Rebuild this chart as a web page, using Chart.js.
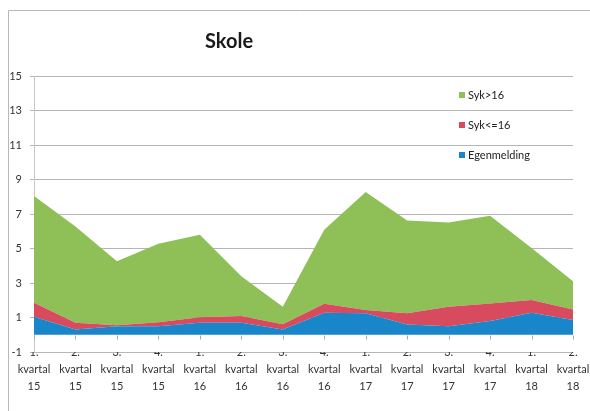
<!DOCTYPE html>
<html>
<head>
<meta charset="utf-8">
<script src="https://cdn.jsdelivr.net/npm/chart.js@4/dist/chart.umd.min.js"></script>
<style>
  html, body { margin: 0; padding: 0; background: #fff; overflow: hidden; }
</style>
</head>
<body>
<canvas id="skole" width="590" height="411"></canvas>
<script>
var kvartal = ['1.', '2.', '3.', '4.', '1.', '2.', '3.', '4.', '1.', '2.', '3.', '4.', '1.', '2.'];
var aar = ['15', '15', '15', '15', '16', '16', '16', '16', '17', '17', '17', '17', '18', '18'];

// values (stacked)
var egenmelding = [1.05, 0.31, 0.5, 0.5, 0.7, 0.7, 0.31, 1.28, 1.24, 0.6, 0.5, 0.79, 1.28, 0.85];
var sykUnder16 = [0.8, 0.39, 0.05, 0.23, 0.32, 0.38, 0.3, 0.52, 0.19, 0.64, 1.12, 1.02, 0.73, 0.62];
var sykOver16 = [6.2, 5.58, 3.71, 4.55, 4.78, 2.31, 1.02, 4.29, 6.84, 5.39, 4.89, 5.09, 3.02, 1.63];

var yTicks = [-1, 1, 3, 5, 7, 9, 11, 13, 15];

var labels = kvartal.map(function (k, i) { return [k, 'kvartal', aar[i]]; });

var axisFont = { family: 'Lato, sans-serif', size: 11, lineHeight: 1.55 };

// frame, title, legend and the little category ticks under the zero line
var extras = {
  id: 'extras',
  beforeDraw: function (chart) {
    var ctx = chart.ctx;
    ctx.save();
    ctx.strokeStyle = '#b8b8b8';
    ctx.lineWidth = 1;
    ctx.beginPath();
    ctx.moveTo(8.5, 411);
    ctx.lineTo(8.5, 10.5);
    ctx.lineTo(590, 10.5);
    ctx.stroke();
    ctx.restore();
  },
  afterDraw: function (chart) {
    var ctx = chart.ctx;
    var xs = chart.scales.x, ys = chart.scales.y;
    ctx.save();
    ctx.strokeStyle = '#a8a8a8';
    ctx.lineWidth = 1;
    ctx.beginPath();
    var y0 = Math.round(ys.getPixelForValue(0)) + 0.5;
    kvartal.forEach(function (k, i) {
      var x = Math.round(xs.getPixelForValue(i)) + 0.5;
      ctx.moveTo(x, y0);
      ctx.lineTo(x, y0 + 4);
    });
    ctx.stroke();

    ctx.fillStyle = '#1a1a1a';
    ctx.font = 'bold 20px Lato, sans-serif';
    ctx.textBaseline = 'middle';
    ctx.fillText('Skole', 205, 42);

    ctx.font = '11px Lato, sans-serif';
    var ds = chart.data.datasets.slice().reverse();
    ds.forEach(function (d, i) {
      var y = 95 + i * 30;
      ctx.fillStyle = d.backgroundColor;
      ctx.fillRect(459, y - 3, 6, 6);
      ctx.fillStyle = '#222';
      ctx.fillText(d.label, 468, y);
    });
    ctx.restore();
  }
};

var ctx = document.getElementById('skole').getContext('2d');
var chart = new Chart(ctx, {
  type: 'line',
  data: {
    labels: labels,
    datasets: [{
      label: 'Egenmelding',
      data: egenmelding,
      backgroundColor: 'rgb(24, 134, 200)',
      borderWidth: 0,
      pointRadius: 0,
      fill: 'origin'
    }, {
      label: 'Syk<=16',
      data: sykUnder16,
      backgroundColor: 'rgb(216, 74, 94)',
      borderWidth: 0,
      pointRadius: 0,
      fill: '-1'
    }, {
      label: 'Syk>16',
      data: sykOver16,
      backgroundColor: 'rgb(142, 192, 87)',
      borderWidth: 0,
      pointRadius: 0,
      fill: '-1'
    }]
  },
  options: {
    responsive: false,
    animation: false,
    layout: { padding: { left: 0, top: 76, right: 17, bottom: 0 } },
    plugins: {
      legend: { display: false },
      title: { display: false },
      tooltip: { enabled: false }
    },
    scales: {
      x: {
        offset: false,
        afterFit: function (s) { s.height = 59; },
        grid: { display: false, drawTicks: false },
        border: { display: false },
        ticks: {
          autoSkip: false, maxRotation: 0, padding: -8,
          color: '#333', font: axisFont
        }
      },
      y: {
        stacked: true,
        min: -1, max: 15,
        afterFit: function (s) { s.width = 34; },
        afterBuildTicks: function (axis) {
          axis.ticks = yTicks.map(function (v) { return { value: v }; });
        },
        grid: { color: '#b5b5b5', tickLength: 4 },
        border: { color: '#c8c8c8' },
        ticks: { padding: 8, color: '#333', font: { family: 'Lato, sans-serif', size: 11 } }
      }
    }
  },
  plugins: [extras]
});
</script>
</body>
</html>
